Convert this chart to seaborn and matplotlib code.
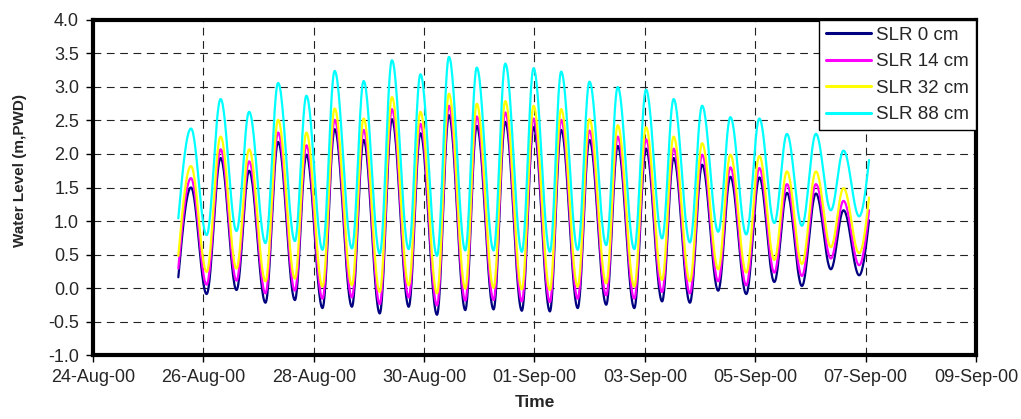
import numpy as np
import pandas as pd
import seaborn as sns
import matplotlib
matplotlib.use("Agg")
import matplotlib.pyplot as plt
import matplotlib.dates as mdates

sns.set_theme(style="white")
plt.rcParams['font.family'] = ['Liberation Sans', 'DejaVu Sans']

# High/low water times (hours after 24-Aug-00 00:00),
# first and last entries are the record start/end
hours = [37.1, 42.6, 49.4, 55.5, 62.4, 67.9, 75.0, 80.5, 87.8, 92.8,
         99.8, 105.1, 112.6, 117.7, 124.7, 130.0, 137.3, 142.4, 149.6, 154.8,
         161.9, 166.9, 174.2, 179.3, 186.5, 191.6, 198.7, 203.6, 210.8, 215.9,
         223.2, 228.2, 235.4, 240.5, 247.5, 252.5, 259.6, 264.9, 271.9, 277.2,
         284.1, 289.8, 296.3, 301.8, 308.3, 314.4, 320.9, 326.4, 333.2, 337.5]

slr_0 = [0.16, 1.50, -0.09, 1.94, -0.03, 1.75, -0.22, 2.18, -0.18, 1.99,
         -0.30, 2.37, -0.28, 2.21, -0.38, 2.52, -0.28, 2.31, -0.40, 2.58,
         -0.33, 2.42, -0.32, 2.48, -0.34, 2.40, -0.35, 2.36, -0.30, 2.21,
         -0.25, 2.12, -0.30, 2.08, -0.20, 1.94, -0.22, 1.84, -0.04, 1.66,
         -0.09, 1.65, 0.09, 1.42, 0.03, 1.41, 0.28, 1.16, 0.19, 1.01]
slr_14 = [0.29, 1.64, 0.05, 2.07, 0.11, 1.89, -0.08, 2.32, -0.04, 2.13,
          -0.16, 2.51, -0.14, 2.36, -0.24, 2.67, -0.14, 2.45, -0.26, 2.72,
          -0.19, 2.56, -0.18, 2.62, -0.20, 2.53, -0.21, 2.51, -0.16, 2.35,
          -0.11, 2.26, -0.16, 2.22, -0.06, 2.08, -0.08, 1.99, 0.10, 1.80,
          0.04, 1.79, 0.23, 1.55, 0.18, 1.55, 0.44, 1.30, 0.34, 1.16]
slr_32 = [0.48, 1.82, 0.24, 2.26, 0.29, 2.07, 0.10, 2.51, 0.14, 2.32,
          0.02, 2.68, 0.04, 2.53, -0.06, 2.85, 0.04, 2.63, -0.08, 2.90,
          -0.01, 2.75, 0.00, 2.79, -0.02, 2.72, -0.03, 2.67, 0.02, 2.52,
          0.07, 2.43, 0.02, 2.40, 0.12, 2.26, 0.10, 2.16, 0.28, 1.99,
          0.23, 1.97, 0.42, 1.74, 0.36, 1.74, 0.61, 1.49, 0.52, 1.35]
slr_88 = [1.04, 2.38, 0.79, 2.82, 0.85, 2.63, 0.67, 3.06, 0.70, 2.87,
          0.57, 3.24, 0.59, 3.09, 0.51, 3.40, 0.58, 3.19, 0.48, 3.45,
          0.56, 3.29, 0.56, 3.35, 0.54, 3.28, 0.54, 3.23, 0.57, 3.08,
          0.64, 3.00, 0.58, 2.96, 0.74, 2.82, 0.68, 2.72, 0.84, 2.55,
          0.80, 2.53, 0.97, 2.30, 0.93, 2.30, 1.16, 2.05, 1.07, 1.91]

series_names = ['SLR 0 cm', 'SLR 14 cm', 'SLR 32 cm', 'SLR 88 cm']
series_values = [slr_0, slr_14, slr_32, slr_88]
colors = ['#000080', '#FF00FF', '#FFFF00', '#00FFFF']

t0 = pd.Timestamp('2000-08-24')
tick_dates = pd.date_range('2000-08-24', '2000-09-09', freq='2D')


def smooth_tide(t, v, n=30):
    # draw a smooth tidal curve through the read high/low points
    xs, ys = [], []
    last = len(t) - 2
    for i in range(len(t) - 1):
        s = np.linspace(0, 1, n)
        if i == 0:
            w = np.sin(np.pi / 2 * s)
        elif i == last:
            w = 1 - np.cos(np.pi / 2 * s)
        else:
            w = (1 - np.cos(np.pi * s)) / 2
        if i > 0:
            s, w = s[1:], w[1:]
        xs.append(t[i] + (t[i + 1] - t[i]) * s)
        ys.append(v[i] + (v[i + 1] - v[i]) * w)
    return np.concatenate(xs), np.concatenate(ys)


frames = []
for name, vals in zip(series_names, series_values):
    th, lv = smooth_tide(np.array(hours), np.array(vals))
    frames.append(pd.DataFrame({'Time': t0 + pd.to_timedelta(th, unit='h'),
                                'Level': lv, 'Series': name}))
df = pd.concat(frames, ignore_index=True)

fig = plt.figure(figsize=(10.21, 4.19), dpi=100)
ax = fig.add_axes([0.0911, 0.1527, 0.8648, 0.7996])

sns.lineplot(data=df, x='Time', y='Level', hue='Series', hue_order=series_names,
             palette=colors, estimator=None, sort=False, linewidth=1.6, ax=ax)

ax.set_xlim(tick_dates[0], tick_dates[-1])
ax.set_ylim(-1.0, 4.0)
ax.set_yticks(np.arange(-1.0, 4.01, 0.5))
ax.yaxis.set_major_formatter(matplotlib.ticker.FormatStrFormatter('%.1f'))
ax.set_xticks(tick_dates)
ax.xaxis.set_major_formatter(mdates.DateFormatter('%d-%b-%y'))

ax.grid(True, color='#222222', linestyle=(0, (7, 5)), linewidth=0.8)
for sp in ax.spines.values():
    sp.set_visible(True)
    sp.set_color('black')
    sp.set_linewidth(3)

ax.tick_params(axis='both', direction='out', length=5, width=1, color='black',
               labelsize=13, pad=5, left=True, bottom=True)
ax.set_xlabel('Time', fontsize=12.5, fontweight='bold')
ax.set_ylabel('Water Level (m,PWD)', fontsize=11, fontweight='bold')
ax.xaxis.set_label_coords(0.5, -0.12)
ax.yaxis.set_label_coords(-0.075, 0.55)

leg = ax.legend(loc='upper right', fontsize=13.5, frameon=True, fancybox=False,
                framealpha=1, edgecolor='black', borderaxespad=0,
                handlelength=2.4, handletextpad=0.3, labelspacing=0.5,
                borderpad=0.35)
leg.get_frame().set_linewidth(1)
for h in leg.get_lines():
    h.set_linewidth(2.2)

fig.savefig('out.png', dpi=100)
